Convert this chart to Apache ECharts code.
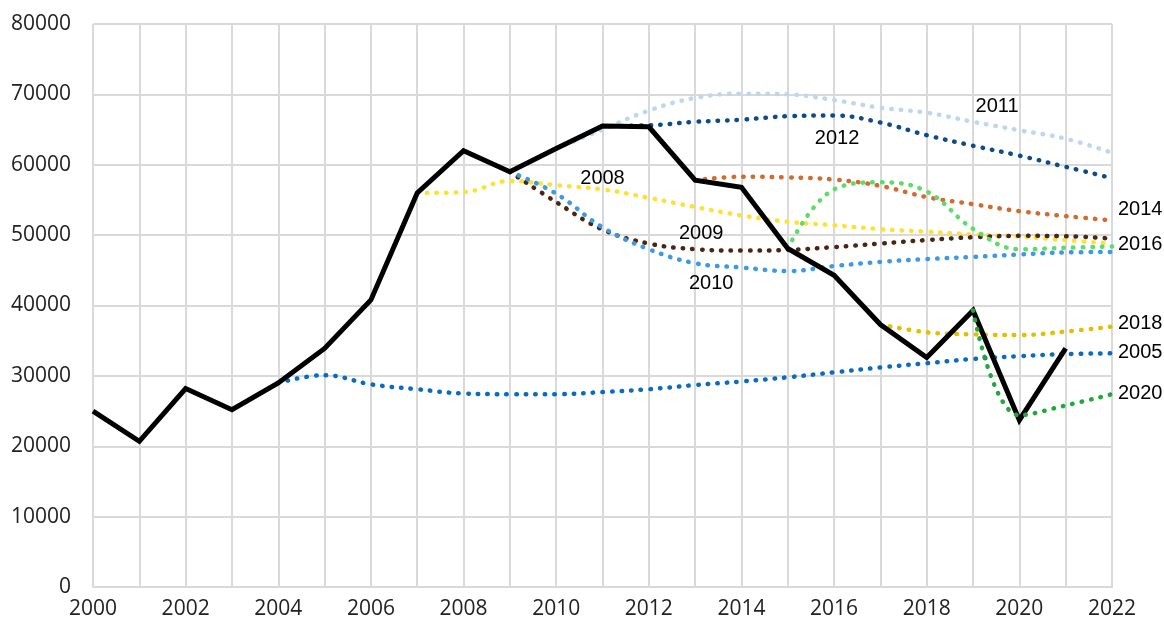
<!DOCTYPE html>
<html>
<head>
<meta charset="utf-8">
<script src="https://cdn.jsdelivr.net/npm/echarts@6/dist/echarts.min.js"></script>
<style>
  html, body { margin: 0; padding: 0; background: #fff; }
  #chart { width: 1164px; height: 627px; }
</style>
</head>
<body>
<div id="chart"></div>
<script>
  // years on the x axis
  var years = [];
  for (var y = 2000; y <= 2022; y++) years.push(String(y));

  // actual values (solid black line)
  var actual = [25000, 20700, 28200, 25200, 29000, 33900, 40800, 56000, 62000, 59000, 62300,
                65500, 65400, 57800, 56800, 48100, 44300, 37300, 32600, 39300, 23700, 33900, null];

  // forecasts, each starting at the given year
  var f2005 = [29000, 30100, 28800, 28100, 27500, 27400, 27400, 27700, 28100, 28700, 29200,
               29800, 30500, 31200, 31800, 32400, 32800, 33100, 33200];           // from 2004
  var f2008 = [56000, 56100, 57700, 57100, 56500, 55300, 54000, 52800, 51900, 51400, 50850,
               50500, 50100, 49800, 49300, 48800];                                  // from 2007
  var f2009 = [59000, 54700, 50800, 48800, 48000, 47800, 47900, 48300, 48800, 49300, 49700,
               49900, 49850, 49500];                                                // from 2009
  var f2010 = [59000, 55900, 51100, 48000, 46000, 45400, 44900, 45600, 46200, 46600, 46900,
               47250, 47550, 47600];                                                // from 2009
  var f2011 = [62300, 65000, 67700, 69500, 70100, 70000, 69200, 68100, 67400, 66100, 64900,
               63700, 61700];                                                       // from 2010
  var f2012 = [65500, 65600, 66100, 66400, 66900, 67000, 66000, 64200, 62700, 61300, 59700,
               58100];                                                              // from 2011
  var f2014 = [57800, 58300, 58200, 57900, 57000, 55400, 54400, 53400, 52700, 52100]; // from 2013
  var f2016 = [48100, 56500, 57500, 56200, 50900, 48000, 48200, 48400];             // from 2015
  var f2018 = [37300, 36200, 35900, 35800, 36300, 37000];                           // from 2017
  var f2020 = [39300, 24400, 25800, 27400];                                         // from 2019

  function pad(startYear, vals) {
    var out = [];
    for (var i = 0; i < years.length; i++) {
      var k = i - (startYear - 2000);
      out.push(k >= 0 && k < vals.length ? vals[k] : null);
    }
    return out;
  }

  var labelFont = { fontFamily: 'Liberation Sans', fontSize: 20, color: '#000' };
  var tickFont = { fontFamily: "'Open Sans'", fontSize: 21, color: '#222' };

  // name, start year, values, colour, label setup
  var forecasts = [
    { name: '2005', start: 2004, vals: f2005, color: '#0A6CC0', end: [0, -1] },
    { name: '2008', start: 2007, vals: f2008, color: '#FFE135', at: 2011, pos: 'top', dist: 1, off: [0, 0] },
    { name: '2009', start: 2009, vals: f2009, color: '#4A2511', at: 2013, pos: 'top', dist: 6, off: [6, 0] },
    { name: '2010', start: 2009, vals: f2010, color: '#3A9AE6', at: 2013, pos: 'bottom', dist: 10, off: [16, 0] },
    { name: '2011', start: 2010, vals: f2011, color: '#BDD7EE', at: 2019, pos: 'top', dist: 5, off: [24, 0] },
    { name: '2012', start: 2011, vals: f2012, color: '#0E4C88', at: 2016, pos: 'bottom', dist: 13, off: [3, 0] },
    { name: '2014', start: 2013, vals: f2014, color: '#D26B2F', end: [0, -11] },
    { name: '2016', start: 2015, vals: f2016, color: '#5EDC6A', end: [0, -2] },
    { name: '2018', start: 2017, vals: f2018, color: '#E1C000', end: [0, -3] },
    { name: '2020', start: 2019, vals: f2020, color: '#22A83A', end: [0, -1] }
  ];

  function forecastSeries(f) {
    var data = pad(f.start, f.vals).map(function (v, i) {
      if (f.at && years[i] === String(f.at)) {
        return {
          value: v, symbol: 'circle', symbolSize: 0.1,
          itemStyle: { color: 'rgba(0,0,0,0)' },
          label: Object.assign({ show: true, position: f.pos, distance: f.dist, offset: f.off,
                                 formatter: f.name }, labelFont)
        };
      }
      return v;
    });
    var s = {
      name: f.name, type: 'line', data: data, smooth: 0.4,
      symbol: 'none', showSymbol: true, connectNulls: false,
      lineStyle: { color: f.color, width: 4.5, type: [0.5, 9.1], cap: 'round' },
      itemStyle: { color: f.color },
      z: 2
    };
    if (f.end) {
      s.endLabel = Object.assign({ show: true, distance: 6, offset: f.end,
                                   formatter: f.name }, labelFont);
    }
    return s;
  }

  var series = [];
  forecasts.forEach(function (f) {
    if (f.name !== '2020') series.push(forecastSeries(f));
  });
  series.push({
    name: 'actual', type: 'line', data: actual, showSymbol: false,
    lineStyle: { color: '#000', width: 5, join: 'miter' }, z: 3
  });
  var s2020 = forecastSeries(forecasts[forecasts.length - 1]);
  s2020.z = 4;
  series.push(s2020);

  var myChart = echarts.init(document.getElementById('chart'));
  myChart.setOption({
    animation: false,
    backgroundColor: '#fff',
    grid: { left: 93, right: 52, top: 24, bottom: 40, containLabel: false },
    xAxis: {
      type: 'category', data: years, boundaryGap: false,
      axisLine: { lineStyle: { color: '#d9d9d9', width: 2 } },
      axisTick: { show: false },
      axisLabel: Object.assign({ interval: 1, margin: 12 }, tickFont),
      splitLine: { show: true, interval: 0, lineStyle: { color: '#d9d9d9', width: 2 } }
    },
    yAxis: {
      type: 'value', min: 0, max: 80000, interval: 10000,
      axisLine: { show: false }, axisTick: { show: false },
      axisLabel: Object.assign({ margin: 22, formatter: function (v) { return String(v); } }, tickFont),
      splitLine: { lineStyle: { color: '#d9d9d9', width: 2 } }
    },
    series: series
  });
</script>
</body>
</html>
